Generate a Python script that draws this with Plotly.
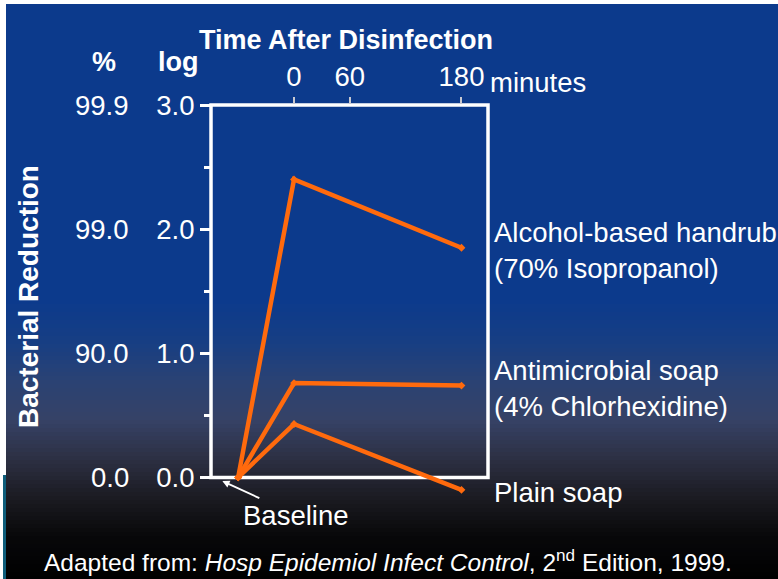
import plotly.graph_objects as go

# ---- data ----
time_points = [-60, 0, 180]          # baseline, 0 min, 180 min
alcohol = [0.0, 2.40, 1.85]
antimicrobial = [0.0, 0.76, 0.74]
plain = [0.0, 0.43, -0.10]
series_names = ["Alcohol-based handrub<br>(70% Isopropanol)",
                "Antimicrobial soap<br>(4% Chlorhexidine)",
                "Plain soap"]
x_tickvals = [0, 60, 180]
x_ticktext = ["0", "60", "180"]
log_ticks = [0, 1, 2, 3]
log_ticktext = ["0.0", "1.0", "2.0", "3.0"]
pct_ticktext = ["0.0", "90.0", "99.0", "99.9"]

# ---- layout geometry (pixels) ----
W, H = 778, 579
L, R, T, B = 211, 488, 105, 496
YMIN, YMAX = -0.15, 3.0
XMIN, XMAX = -89.2, 208.5

def px(x):
    return (x - L) / (R - L)

def py(y):
    return (B - y) / (B - T)

FONT = "Liberation Sans, Arial, sans-serif"
ORANGE = "#ff6a0d"
FS = 27.5

fig = go.Figure()
for vals in (alcohol, antimicrobial, plain):
    fig.add_trace(go.Scatter(
        x=time_points, y=vals, mode="lines+markers",
        line=dict(color=ORANGE, width=4.5),
        marker=dict(symbol="diamond", size=6, color=ORANGE),
        cliponaxis=False, showlegend=False, hoverinfo="skip"))

# background gradient
stops = [(0, (12, 58, 140)), (300, (12, 58, 140)), (340, (22, 62, 132)),
         (380, (42, 66, 116)), (420, (54, 66, 102)), (460, (44, 47, 66)),
         (500, (26, 26, 32)), (535, (8, 8, 10)), (579, (0, 0, 0))]

def col(y):
    for (y0, c0), (y1, c1) in zip(stops[:-1], stops[1:]):
        if y0 <= y <= y1:
            t = (y - y0) / (y1 - y0) if y1 > y0 else 0
            return "rgb(%d,%d,%d)" % tuple(round(a + (b - a) * t) for a, b in zip(c0, c1))
    return "rgb(0,0,0)"

shapes = []
step = 4
for y in range(0, H, step):
    shapes.append(dict(type="rect", xref="paper", yref="paper", layer="below",
                       x0=px(0), x1=px(W), y0=py(y + step + 0.5), y1=py(y),
                       line=dict(width=0), fillcolor=col(y + step / 2)))
# white edges
shapes.append(dict(type="rect", xref="paper", yref="paper", layer="below",
                   x0=px(0), x1=px(W), y0=py(4), y1=py(0), line=dict(width=0), fillcolor="white"))
shapes.append(dict(type="rect", xref="paper", yref="paper", layer="below",
                   x0=px(0), x1=px(6), y0=py(475), y1=py(0), line=dict(width=0), fillcolor="white"))
shapes.append(dict(type="rect", xref="paper", yref="paper", layer="below",
                   x0=px(0), x1=px(3), y0=py(579), y1=py(475), line=dict(width=0), fillcolor="white"))
shapes.append(dict(type="rect", xref="paper", yref="paper", layer="below",
                   x0=px(3), x1=px(6), y0=py(579), y1=py(475), line=dict(width=0), fillcolor="#0e5d7a"))
# plot frame (y from 0 to 3)
y0_paper = (0 - YMIN) / (YMAX - YMIN)
shapes.append(dict(type="rect", xref="paper", yref="paper", layer="below",
                   x0=0, x1=1, y0=y0_paper, y1=1, line=dict(color="white", width=3.5)))

annotations = []
def ann(text, x, y, size=FS, bold=False, xanchor="center", yanchor="middle", **kw):
    if bold:
        text = "<b>%s</b>" % text
    d = dict(text=text, x=px(x), y=py(y), xref="paper", yref="paper",
             showarrow=False, xanchor=xanchor, yanchor=yanchor,
             font=dict(family=FONT, size=size, color="white"))
    d.update(kw)
    annotations.append(d)

ann("Time After Disinfection", 346, 40, size=27, bold=True)
ann("%", 104, 62, size=27, bold=True)
ann("log", 178, 62, size=27, bold=True)
ann("minutes", 488, 82, xanchor="left")
ann("Bacterial Reduction", 28, 297, size=28, bold=True, textangle=-90)
ann("Adapted from: <i>Hosp Epidemiol Infect Control</i>, 2<sup>nd</sup> Edition, 1999.",
    388, 560, size=24.5)

# percent scale labels tied to log ticks
for v, t in zip(log_ticks, pct_ticktext):
    annotations.append(dict(text=t, x=px(131), xref="paper", y=v, yref="y",
                            xanchor="right", yanchor="middle", showarrow=False,
                            font=dict(family=FONT, size=FS, color="white")))

# series labels at end values
for vals, name in zip((alcohol, antimicrobial, plain), series_names):
    annotations.append(dict(text=name, x=px(492), xref="paper", y=vals[-1] - 0.02, yref="y",
                            xanchor="left", yanchor="middle", align="left", showarrow=False,
                            font=dict(family=FONT, size=FS, color="white")))

# baseline arrow
annotations.append(dict(text="Baseline", x=-77, y=-0.03, xref="x", yref="y",
                        showarrow=True, arrowhead=2, arrowsize=0.8, arrowwidth=1.8,
                        arrowcolor="white", ax=74, ay=34, xanchor="center", yanchor="middle",
                        font=dict(family=FONT, size=FS, color="white")))

fig.update_layout(
    width=W, height=H,
    margin=dict(l=L, r=W - R, t=T, b=H - B, pad=0),
    paper_bgcolor="#0c3a8c", plot_bgcolor="rgba(0,0,0,0)",
    shapes=shapes, annotations=annotations,
    xaxis=dict(range=[XMIN, XMAX], side="top", tickvals=x_tickvals, ticktext=x_ticktext,
               ticks="outside", ticklen=7, tickwidth=1.5, tickcolor="#c8c8d0",
               showgrid=False, zeroline=False, showline=False,
               tickfont=dict(family=FONT, size=FS, color="white")),
    yaxis=dict(range=[YMIN, YMAX], tickvals=log_ticks, ticktext=log_ticktext,
               ticks="outside", ticklen=10, tickwidth=3, tickcolor="white",
               minor=dict(tickvals=[0.5, 1.5, 2.5], ticks="outside", ticklen=6,
                          tickwidth=3, tickcolor="white", showgrid=False),
               showgrid=False, zeroline=False, showline=False,
               tickfont=dict(family=FONT, size=FS, color="white")),
)

fig.write_html("out.html", config={"displayModeBar": False},
               post_script="document.body.style.margin='0';document.body.style.overflow='hidden';")
